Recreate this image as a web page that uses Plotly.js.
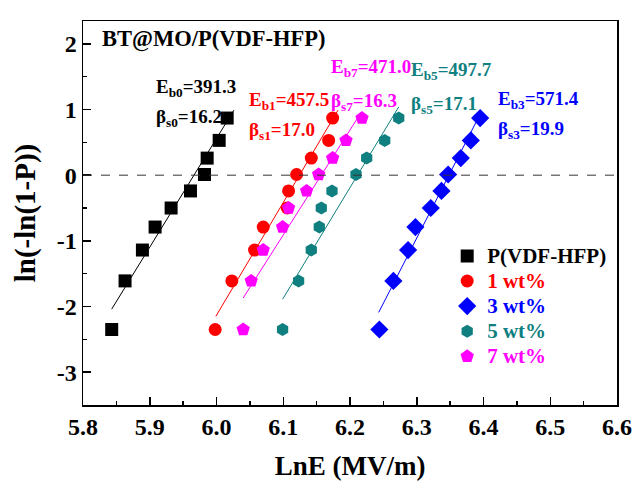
<!DOCTYPE html>
<html>
<head>
<meta charset="utf-8">
<script src="https://cdn.plot.ly/plotly-3.0.1.min.js"></script>
<style>html,body{margin:0;padding:0;background:#fff;}#chart{width:635px;height:488px;}</style>
</head>
<body>
<div id="chart"></div>
<script>
// ---- data ----
const yValues = [-2.35, -1.61, -1.14, -0.79, -0.50, -0.24, 0.01, 0.26, 0.53, 0.87];

const pureX  = [5.843, 5.863, 5.889, 5.908, 5.932, 5.961, 5.982, 5.986, 6.004, 6.016];
const wt1X   = [5.998, 6.023, 6.057, 6.070, 6.106, 6.108, 6.120, 6.142, 6.168, 6.174];
const wt3X   = [6.244, 6.265, 6.287, 6.298, 6.321, 6.337, 6.347, 6.366, 6.381, 6.395];
const wt5X   = [6.099, 6.123, 6.142, 6.154, 6.157, 6.173, 6.209, 6.225, 6.252, 6.273];
const wt7X   = [6.040, 6.052, 6.070, 6.099, 6.108, 6.135, 6.153, 6.174, 6.194, 6.218];

// fitted lines (end points)
const pureFitX = [5.843, 6.026], pureFitY = [-2.04, 0.99];
const wt1FitX  = [5.999, 6.182], wt1FitY  = [-2.15, 0.99];
const wt3FitX  = [6.243, 6.397], wt3FitY  = [-2.09, 0.97];
const wt5FitX  = [6.099, 6.273], wt5FitY  = [-1.89, 1.04];
const wt7FitX  = [6.040, 6.217], wt7FitY  = [-1.87, 0.96];

const seriesNames = ['P(VDF-HFP)', '1 wt%', '3 wt%', '5 wt%', '7 wt%'];
const ebLabels   = ['391.3', '457.5', '571.4', '497.7', '471.0'];
const betaLabels = ['16.2', '17.0', '19.9', '17.1', '16.3'];
const subIdx     = ['0', '1', '3', '5', '7'];

const xTicks = [5.8, 5.9, 6.0, 6.1, 6.2, 6.3, 6.4, 6.5, 6.6];
const xTickText = ['5.8', '5.9', '6.0', '6.1', '6.2', '6.3', '6.4', '6.5', '6.6'];
const yTicks = [-3, -2, -1, 0, 1, 2];
const yTickText = ['-3', '-2', '-1', '0', '1', '2'];

// ---- styling ----
const FONT = 'Liberation Serif, Times New Roman, serif';
const colors = ['#000000', '#FF0000', '#0000FF', '#0F7F7F', '#FF00FF'];
const symbols = ['square', 'circle', 'diamond', 'hexagon', 'pentagon'];
const sizes = [13, 13, 14, 13, 14];
const xs = [pureX, wt1X, wt3X, wt5X, wt7X];
const fitsX = [pureFitX, wt1FitX, wt3FitX, wt5FitX, wt7FitX];
const fitsY = [pureFitY, wt1FitY, wt3FitY, wt5FitY, wt7FitY];

const traces = [];
for (let i = 0; i < 5; i++) {
  traces.push({
    x: fitsX[i], y: fitsY[i], mode: 'lines', showlegend: false, hoverinfo: 'skip',
    line: {color: colors[i], width: 1}
  });
}
for (let i = 0; i < 5; i++) {
  traces.push({
    x: xs[i], y: yValues, mode: 'markers',
    name: '<span style="color:' + colors[i] + ';font-size:21px">' + seriesNames[i] + '</span>',
    marker: {symbol: symbols[i], size: sizes[i], color: colors[i], line: {width: 0}}
  });
}

// annotation positions (data coords)
const annPos = [
  {c: 0, ex: 5.907, ey: 1.33, bx: 5.907, by: 0.87},
  {c: 1, ex: 6.0458, ey: 1.13, bx: 6.0458, by: 0.67},
  {c: 4, ex: 6.168, ey: 1.63, bx: 6.168, by: 1.12},
  {c: 3, ex: 6.289, ey: 1.58, bx: 6.289, by: 1.07},
  {c: 2, ex: 6.418, ey: 1.15, bx: 6.418, by: 0.69}
];
const annotations = [{
  x: 5.826, y: 2.07, xref: 'x', yref: 'y', xanchor: 'left', yanchor: 'middle',
  text: 'BT@MO/P(VDF-HFP)', showarrow: false,
  font: {family: FONT, size: 22.5, color: '#000', weight: 'bold'}
}];
annPos.forEach(p => {
  const i = p.c;
  annotations.push({
    x: p.ex, y: p.ey, xref: 'x', yref: 'y', xanchor: 'left', yanchor: 'middle', showarrow: false,
    text: 'E<sub>b' + subIdx[i] + '</sub>=' + ebLabels[i],
    font: {family: FONT, size: 19, color: colors[i], weight: 'bold'}
  });
  annotations.push({
    x: p.bx, y: p.by, xref: 'x', yref: 'y', xanchor: 'left', yanchor: 'middle', showarrow: false,
    text: 'β<sub>s' + subIdx[i] + '</sub>=' + betaLabels[i],
    font: {family: FONT, size: 19, color: colors[i], weight: 'bold'}
  });
});

const axisCommon = {
  showgrid: false, zeroline: false, showline: true, mirror: true,
  linecolor: '#000', linewidth: 1.5, ticks: 'inside', ticklen: 8, tickwidth: 1.5, tickcolor: '#000',
  tickfont: {family: FONT, size: 24, color: '#000', weight: 'bold'},
  minor: {ticks: 'inside', ticklen: 4, tickwidth: 1.5, tickcolor: '#000', showgrid: false}
};

const layout = {
  width: 635, height: 488,
  margin: {l: 82.5, r: 18, t: 20.5, b: 83},
  paper_bgcolor: '#fff', plot_bgcolor: '#fff',
  showlegend: true,
  legend: {
    x: 0.682, y: 0.434, xanchor: 'left', yanchor: 'top', bgcolor: 'rgba(0,0,0,0)',
    font: {family: FONT, size: 17, color: '#000', weight: 'bold'}
  },
  xaxis: Object.assign({}, axisCommon, {
    range: [5.8, 6.6], tickmode: 'array', tickvals: xTicks, ticktext: xTickText,
    minor: Object.assign({}, axisCommon.minor, {dtick: 0.05, tick0: 5.8}),
    title: {text: 'LnE (MV/m)', font: {family: FONT, size: 27, color: '#000', weight: 'bold'}, standoff: 17}
  }),
  yaxis: Object.assign({}, axisCommon, {
    range: [-3.5, 2.348], tickmode: 'array', tickvals: yTicks, ticktext: yTickText,
    minor: Object.assign({}, axisCommon.minor, {dtick: 0.5, tick0: 0}),
    title: {text: 'ln(-ln(1-P))', font: {family: FONT, size: 29, color: '#000', weight: 'bold'}, standoff: 12}
  }),
  shapes: [{
    type: 'line', xref: 'paper', yref: 'y', x0: 0, x1: 1, y0: 0, y1: 0,
    line: {color: '#333', width: 1, dash: 'dash'}
  }],
  annotations: annotations
};

Plotly.newPlot('chart', traces, layout, {displayModeBar: false, staticPlot: true});
</script>
</body>
</html>
